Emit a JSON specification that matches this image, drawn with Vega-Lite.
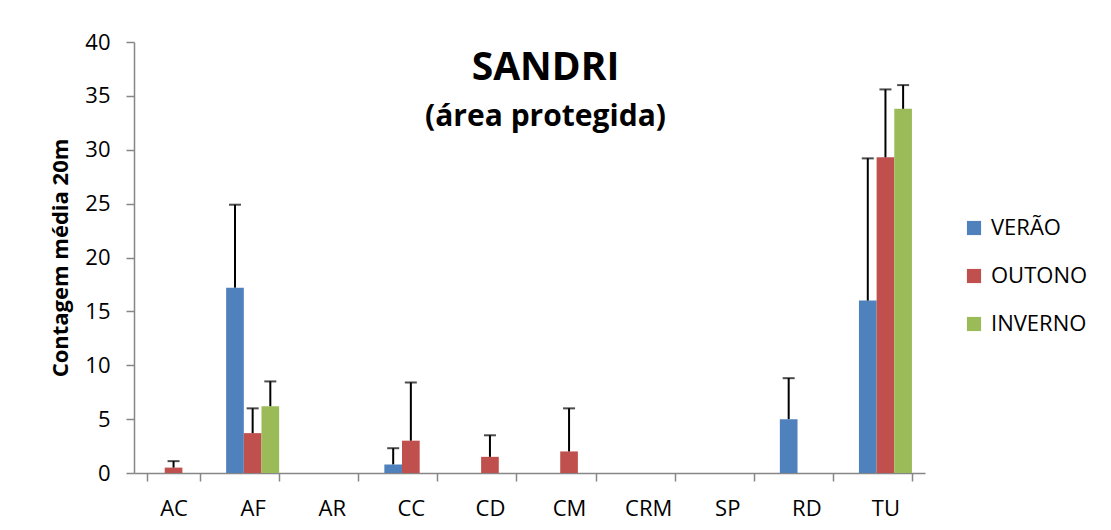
{
  "$schema": "https://vega.github.io/schema/vega-lite/v6.json",
  "width": 791,
  "height": 431,
  "autosize": {"type": "none"},
  "padding": {"left": 134, "top": 42, "right": 186, "bottom": 57},
  "background": "white",
  "config": {"view": {"stroke": null}},
  "title": {
    "text": "SANDRI",
    "subtitle": "(área protegida)",
    "orient": "top",
    "anchor": "middle",
    "frame": "group",
    "offset": -101,
    "dx": 16,
    "font": "Open Sans",
    "fontSize": 39,
    "fontWeight": "bold",
    "color": "black",
    "subtitleFont": "Open Sans",
    "subtitleFontSize": 30,
    "subtitleFontWeight": "bold",
    "subtitleColor": "black",
    "subtitlePadding": 14
  },
  "data": {
    "values": [
      {"cat": "AC", "season": "VERÃO", "value": 0, "err": 0},
      {"cat": "AC", "season": "OUTONO", "value": 0.5, "err": 0.6},
      {"cat": "AC", "season": "INVERNO", "value": 0, "err": 0},
      {"cat": "AF", "season": "VERÃO", "value": 17.2, "err": 7.7},
      {"cat": "AF", "season": "OUTONO", "value": 3.7, "err": 2.3},
      {"cat": "AF", "season": "INVERNO", "value": 6.2, "err": 2.3},
      {"cat": "AR", "season": "VERÃO", "value": 0, "err": 0},
      {"cat": "AR", "season": "OUTONO", "value": 0, "err": 0},
      {"cat": "AR", "season": "INVERNO", "value": 0, "err": 0},
      {"cat": "CC", "season": "VERÃO", "value": 0.8, "err": 1.5},
      {"cat": "CC", "season": "OUTONO", "value": 3.0, "err": 5.4},
      {"cat": "CC", "season": "INVERNO", "value": 0, "err": 0},
      {"cat": "CD", "season": "VERÃO", "value": 0, "err": 0},
      {"cat": "CD", "season": "OUTONO", "value": 1.5, "err": 2.0},
      {"cat": "CD", "season": "INVERNO", "value": 0, "err": 0},
      {"cat": "CM", "season": "VERÃO", "value": 0, "err": 0},
      {"cat": "CM", "season": "OUTONO", "value": 2.0, "err": 4.0},
      {"cat": "CM", "season": "INVERNO", "value": 0, "err": 0},
      {"cat": "CRM", "season": "VERÃO", "value": 0, "err": 0},
      {"cat": "CRM", "season": "OUTONO", "value": 0, "err": 0},
      {"cat": "CRM", "season": "INVERNO", "value": 0, "err": 0},
      {"cat": "SP", "season": "VERÃO", "value": 0, "err": 0},
      {"cat": "SP", "season": "OUTONO", "value": 0, "err": 0},
      {"cat": "SP", "season": "INVERNO", "value": 0, "err": 0},
      {"cat": "RD", "season": "VERÃO", "value": 5.0, "err": 3.8},
      {"cat": "RD", "season": "OUTONO", "value": 0, "err": 0},
      {"cat": "RD", "season": "INVERNO", "value": 0, "err": 0},
      {"cat": "TU", "season": "VERÃO", "value": 16.0, "err": 13.2},
      {"cat": "TU", "season": "OUTONO", "value": 29.3, "err": 6.3},
      {"cat": "TU", "season": "INVERNO", "value": 33.8, "err": 2.2}
    ]
  },
  "transform": [{"calculate": "datum.value + datum.err", "as": "top"}],
  "encoding": {
    "x": {
      "field": "cat",
      "type": "nominal",
      "sort": ["AC", "AF", "AR", "CC", "CD", "CM", "CRM", "SP", "RD", "TU"],
      "scale": {"paddingInner": 0.33, "paddingOuter": 0.165},
      "axis": {
        "title": null,
        "labelAngle": 0,
        "tickBand": "extent",
        "tickSize": 8,
        "labelPadding": 17,
        "labelFont": "Open Sans",
        "labelFontSize": 22,
        "labelColor": "black",
        "domainColor": "#868686",
        "tickColor": "#868686",
        "domainWidth": 1.5,
        "tickWidth": 1.5
      }
    },
    "xOffset": {
      "field": "season",
      "type": "nominal",
      "sort": ["VERÃO", "OUTONO", "INVERNO"],
      "scale": {"paddingInner": 0, "paddingOuter": 0}
    }
  },
  "layer": [
    {
      "mark": {"type": "bar"},
      "encoding": {
        "y": {
          "field": "value",
          "type": "quantitative",
          "scale": {"domain": [0, 40], "nice": false},
          "axis": {
            "values": [0, 5, 10, 15, 20, 25, 30, 35, 40],
            "grid": false,
            "title": "Contagem média 20m",
            "titleFont": "Open Sans",
            "titleFontSize": 22,
            "titleFontWeight": "bold",
            "titleColor": "black",
            "titlePadding": 12,
            "labelFont": "Open Sans",
            "labelFontSize": 22,
            "labelColor": "black",
            "labelPadding": 16,
            "tickSize": 8,
            "domainColor": "#868686",
            "tickColor": "#868686",
            "domainWidth": 1.5,
            "tickWidth": 1.5
          }
        },
        "color": {
          "field": "season",
          "type": "nominal",
          "sort": ["VERÃO", "OUTONO", "INVERNO"],
          "scale": {"domain": ["VERÃO", "OUTONO", "INVERNO"], "range": ["#4F81BD", "#C0504D", "#9BBB59"]},
          "legend": {
            "title": null,
            "orient": "none",
            "legendX": 829,
            "legendY": 175,
            "symbolType": "square",
            "symbolSize": 200,
            "symbolStrokeWidth": 0,
            "labelFont": "Open Sans",
            "labelFontSize": 22,
            "labelColor": "black",
            "rowPadding": 26,
            "labelOffset": 6
          }
        }
      }
    },
    {
      "transform": [{"filter": "datum.err > 0"}],
      "mark": {"type": "rule", "color": "black", "strokeWidth": 2},
      "encoding": {
        "y": {"field": "value", "type": "quantitative"},
        "y2": {"field": "top"}
      }
    },
    {
      "transform": [{"filter": "datum.err > 0"}],
      "mark": {"type": "tick", "color": "black", "thickness": 2, "size": 12, "orient": "horizontal"},
      "encoding": {
        "y": {"field": "top", "type": "quantitative"}
      }
    }
  ]
}
